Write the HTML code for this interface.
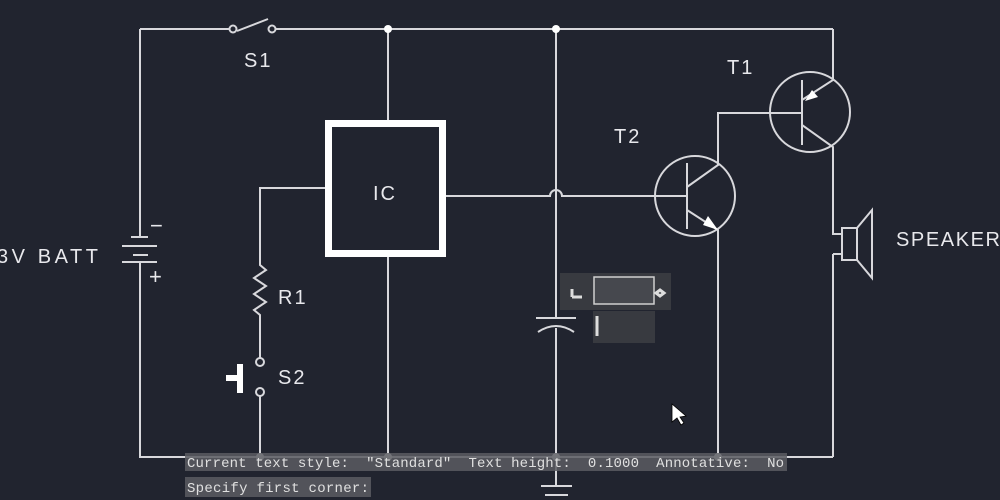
<!DOCTYPE html><html><head><style>body{margin:0;background:#21242f;}svg{display:block}</style></head><body>
<svg width="1000" height="500" viewBox="0 0 1000 500" xmlns="http://www.w3.org/2000/svg">
<rect width="1000" height="500" fill="#21242f"/>
<g stroke="#d8d8dc" stroke-width="2" fill="none">
<path d="M140 29H232M272 29H833M140 29V237M140 262V457H833"/>
<line x1="237" y1="31" x2="268" y2="19"/>
<circle cx="233" cy="29" r="3.5" fill="#21242f"/><circle cx="272" cy="29" r="3.5" fill="#21242f"/>
<path d="M131 237H148M122 246H157M133 255H148M122 262H157"/>
<path d="M388 29V120M388 256V457"/>
<path d="M325 188H260V265l6 5-12 8 12 8-12 8 12 8-12 8 6 5V358M260 396V457"/>
<circle cx="260" cy="362" r="4"/><circle cx="260" cy="392" r="4"/>
<path d="M445 196H550a6 6 0 0 1 12 0H655"/>
<path d="M556 29V318M556 328V485M536 318H576M538 332Q556 320 574 332M541 486H572M545 495H568"/>
<circle cx="695" cy="196" r="40"/>
<path d="M687 163V229M655 196H687M687 187L718 165V113H802M687 210L718 230V457"/>
<circle cx="810" cy="112" r="40"/>
<path d="M802 80V145M802 100L833 80V29M802 125L833 147V234H842M833 254V457M833 254H842"/>
<rect x="842" y="228" width="15" height="32"/>
<path d="M857 228L872 210V278L857 260"/>
</g>
<g fill="#fff">
<circle cx="388" cy="29" r="4"/><circle cx="556" cy="29" r="4"/>
<circle cx="260" cy="457" r="4"/><circle cx="388" cy="457" r="4"/><circle cx="556" cy="457" r="4"/><circle cx="718" cy="457" r="4"/>
<polygon points="718,230 703,225 708,216"/>
<polygon points="805,101 812,90 818,97"/>
<rect x="237" y="364" width="6" height="29"/><rect x="226" y="375" width="15" height="6"/>
</g>
<rect x="328.5" y="123.5" width="114" height="130" fill="none" stroke="#fff" stroke-width="7"/>
<g fill="#e8e8ec" font-family="Liberation Sans, sans-serif" font-size="20" letter-spacing="2">
<text x="373" y="200">IC</text><text x="244" y="67">S1</text><text x="727" y="74">T1</text><text x="614" y="143">T2</text>
<text x="-3" y="263" textLength="103">3V BATT</text><text x="896" y="246" textLength="106">SPEAKER</text>
<text x="278" y="304">R1</text><text x="278" y="384">S2</text>
<text x="150" y="233" font-size="22">−</text><text x="149" y="284" font-size="22">+</text>
</g>
<rect x="560" y="273" width="111" height="37" fill="#383a40"/>
<rect x="594" y="277" width="60" height="27" fill="#46484e" stroke="#cfcfcf" stroke-width="1.5"/>
<rect x="593" y="311" width="62" height="32" fill="#383a40"/>
<path d="M572 297V289M572 297H582M597 316V336M660 290l4 3-4 3-4-3z" stroke="#ddd" stroke-width="3" fill="none"/>
<rect x="185" y="453" width="602" height="18" fill="#5a5c62" opacity="0.85"/>
<rect x="185" y="477" width="186" height="20" fill="#5a5c62" opacity="0.85"/>
<g fill="#e0e0e0" font-family="Liberation Mono, monospace" font-size="14">
<text x="187" y="467" textLength="597">Current text style:&#160;&#160;"Standard"&#160;&#160;Text height:&#160;&#160;0.1000&#160;&#160;Annotative:&#160;&#160;No</text>
<text x="187" y="492" textLength="182">Specify first corner:</text>
</g>
<polygon points="672,404 672,422 677,418 681,425 684,423 680,417 686,416" fill="#fff" stroke="#000" stroke-width="0.8"/>
</svg>
</body></html>
